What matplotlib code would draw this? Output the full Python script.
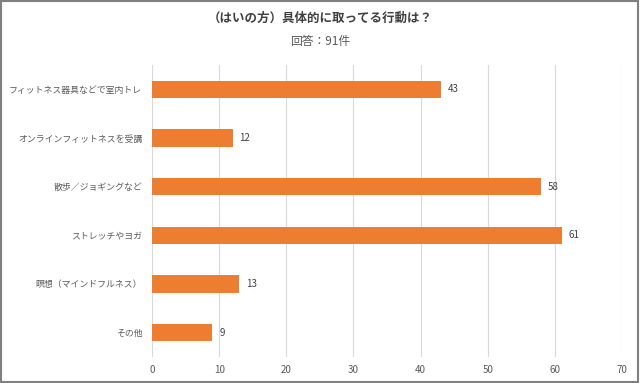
import matplotlib
matplotlib.use("Agg")
import matplotlib.pyplot as plt
from matplotlib.patches import Rectangle

plt.rcParams['font.family'] = ['Noto Sans CJK JP', 'DejaVu Sans']

categories = ["フィットネス器具などで室内トレ", "オンラインフィットネスを受講", "散歩／ジョギングなど",
              "ストレッチやヨガ", "瞑想（マインドフルネス）", "その他"]
values = [43, 12, 58, 61, 13, 9]
xticks = [0, 10, 20, 30, 40, 50, 60, 70]
title = "（はいの方）具体的に取ってる行動は？"
subtitle = "回答：91件"

fig = plt.figure(figsize=(6.4, 3.83), dpi=100)
ax = fig.add_axes([152/640, 1-357/383, (622-152)/640, (357-65)/383])

ypos = list(range(len(categories)))
ax.barh(ypos, values, height=0.35, color="#ED7D31", zorder=3)
for y, v in zip(ypos, values):
    ax.text(v + 1.0, y, str(v), va="center", ha="left", fontsize=7, color="#404040")

ax.set_yticks(ypos)
ax.set_yticklabels(categories, fontsize=6.4, color="#595959")
ax.set_ylim(len(categories) - 0.5, -0.5)
ax.set_xlim(0, 70)
ax.set_xticks(xticks)
ax.set_xticklabels([str(t) for t in xticks], fontsize=7, color="#595959")
ax.tick_params(axis="both", length=0)
ax.tick_params(axis="y", pad=7)
ax.tick_params(axis="x", pad=6)
ax.grid(axis="x", color="#d9d9d9", linewidth=0.8, zorder=0)
for s in ax.spines.values():
    s.set_visible(False)

fig.text(0.5, 1-18/383, title, ha="center", va="center", fontsize=9, fontweight="bold", color="#404040")
fig.text(0.5, 1-41/383, subtitle, ha="center", va="center", fontsize=8.5, color="#595959")

fig.patches.append(Rectangle((0.002, 0.003), 0.995, 0.994, transform=fig.transFigure,
                             fill=False, edgecolor="#808080", linewidth=1.5))

fig.savefig("out.png", dpi=100)
